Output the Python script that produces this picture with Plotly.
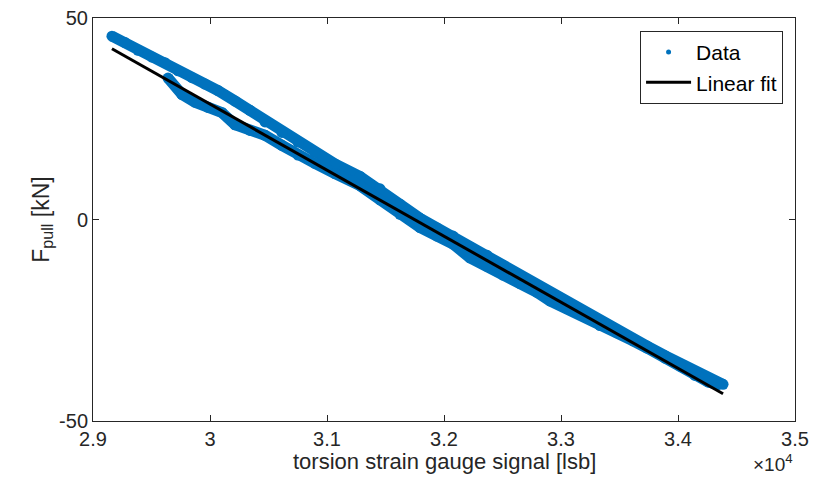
import plotly.graph_objects as go

# Upper branch of the measured band (signal [lsb], force [kN])
upper_x = [29162, 29274, 29385, 29504, 29615, 29727, 29846, 29957, 30068, 30214,
           30342, 30470, 30615, 30752, 30897, 31068, 31282, 31453, 31624, 31795,
           31940, 32077, 32222, 32368, 32504, 32650, 32795, 32906, 33051, 33205,
           33333, 33479, 33615, 33735, 33889, 34017, 34145, 34256, 34342, 34385]
upper_y = [45.5, 43.9, 42.0, 40.3, 38.9, 36.9, 35.2, 33.6, 32.0, 29.4,
           27.1, 24.2, 21.6, 19.2, 16.7, 13.8, 10.7, 7.6, 3.8, 0.3,
           -2.1, -4.1, -6.8, -8.9, -11.4, -14.0, -16.6, -18.4, -20.6, -23.1,
           -25.2, -27.4, -29.6, -31.4, -33.8, -35.8, -37.8, -39.3, -40.5, -40.9]

# Lower branch of the measured band
lower_x = [29641, 29761, 29872, 29983, 30103, 30214, 30342, 30470, 30615, 30752,
           30897, 31068, 31282, 31453, 31624, 31795, 31940, 32077, 32222, 32368,
           32504, 32650, 32795, 32906, 33051, 33205, 33333, 33479, 33615, 33735,
           33889, 34017, 34145, 34256, 34342]
lower_y = [35.1, 31.0, 29.1, 27.8, 26.5, 23.5, 22.1, 20.9, 18.4, 16.0,
           13.9, 11.4, 8.4, 4.9, 1.3, -2.0, -4.1, -6.1, -9.5, -11.6,
           -13.8, -15.9, -18.1, -20.2, -22.1, -24.1, -26.3, -28.1, -30.1, -31.9,
           -34.4, -36.4, -38.7, -40.3, -41.0]

# Linear fit coefficients: F = fit_intercept + fit_slope * signal
fit_slope = -0.016389
fit_intercept = 520.3

x_tickvals = [29000, 30000, 31000, 32000, 33000, 34000, 35000]
x_ticktext = ["2.9", "3", "3.1", "3.2", "3.3", "3.4", "3.5"]
y_tickvals = [-50, 0, 50]
y_ticktext = ["-50", "0", "50"]

blue = "#0072BD"
axc = "#262626"
font = "Liberation Sans, Arial, sans-serif"

fit_x = [min(upper_x + lower_x), max(upper_x + lower_x)]
fit_y = [fit_intercept + fit_slope * v for v in fit_x]

fig = go.Figure()
for bx, by in [(upper_x, upper_y), (lower_x, lower_y)]:
    fig.add_trace(go.Scatter(x=bx, y=by, mode="lines+markers",
                             line=dict(color=blue, width=11),
                             marker=dict(color=blue, size=11),
                             showlegend=False, hoverinfo="skip"))
fig.add_trace(go.Scatter(x=[None], y=[None], mode="markers", name="Data",
                         marker=dict(color=blue, size=5)))
fig.add_trace(go.Scatter(x=fit_x, y=fit_y, mode="lines", name="Linear fit",
                         line=dict(color="black", width=3)))

fig.update_layout(
    width=815, height=497,
    margin=dict(l=93, r=20, t=18, b=76),
    plot_bgcolor="white", paper_bgcolor="white",
    font=dict(family=font, size=21, color=axc),
    legend=dict(x=0.983, y=0.968, xanchor="right", yanchor="top",
                bordercolor=axc, borderwidth=1, bgcolor="white",
                itemwidth=45,
                font=dict(size=21, color="black"), tracegroupgap=0),
    annotations=[
        dict(text="torsion strain gauge signal [lsb]", xref="paper", yref="paper",
             x=0.5, y=-0.1, xanchor="center", yanchor="middle",
             showarrow=False, font=dict(size=22, color=axc)),
        dict(text="×10<sup>4</sup>", xref="paper", yref="paper",
             x=1.0, y=-0.103, xanchor="right", yanchor="middle",
             showarrow=False, font=dict(size=19, color=axc)),
    ],
)
fig.update_xaxes(range=[29000, 35000], tickvals=x_tickvals, ticktext=x_ticktext,
                 ticks="inside", ticklen=6, tickcolor=axc, showline=True,
                 linecolor=axc, linewidth=1, mirror="ticks", showgrid=False,
                 zeroline=False, tickfont=dict(size=20), automargin=False)
fig.update_yaxes(range=[-50, 50], tickvals=y_tickvals, ticktext=y_ticktext,
                 ticks="inside", ticklen=6, tickcolor=axc, showline=True,
                 linecolor=axc, linewidth=1, mirror="ticks", showgrid=False,
                 zeroline=False, tickfont=dict(size=20), automargin=False,
                 title=dict(text="F<sub>pull</sub> [kN]", font=dict(size=23),
                            standoff=3))

fig.write_html("out.html", config={"displayModeBar": False},
               post_script="document.body.style.margin='0px';")
